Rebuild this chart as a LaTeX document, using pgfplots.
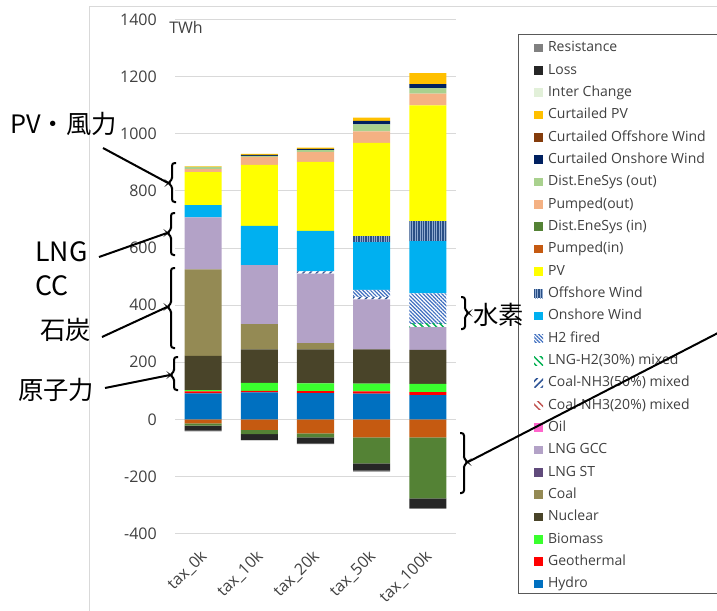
\documentclass[border=0pt]{standalone}
\usepackage{pgfplots}
\pgfplotsset{compat=1.18}
\usepackage{pgfplotstable}
\usepackage{fontspec}
\setmainfont{Open Sans}
\newfontfamily\jp{Noto Sans CJK JP}
\usetikzlibrary{patterns.meta}

% series colours
\definecolor{cHydro}{HTML}{0070C0}
\definecolor{cGeo}{HTML}{FF0000}
\definecolor{cBio}{HTML}{3AFF2E}
\definecolor{cNuc}{HTML}{494429}
\definecolor{cCoal}{HTML}{948A54}
\definecolor{cLNGST}{HTML}{604A7B}
\definecolor{cLNGGCC}{HTML}{B3A2C7}
\definecolor{cOil}{HTML}{FF66CC}
\definecolor{cNHa}{HTML}{C0504D}
\definecolor{cNHb}{HTML}{2F5597}
\definecolor{cH2mix}{HTML}{00B050}
\definecolor{cH2}{HTML}{3F6FC0}
\definecolor{cOnsh}{HTML}{00B0F0}
\definecolor{cOffsh}{HTML}{2A4F85}
\definecolor{cOffshLt}{HTML}{8FAAD0}
\definecolor{cPV}{HTML}{FFFF00}
\definecolor{cPumpIn}{HTML}{C55A11}
\definecolor{cDistIn}{HTML}{548235}
\definecolor{cPumpOut}{HTML}{F4B183}
\definecolor{cDistOut}{HTML}{A9D18E}
\definecolor{cCurOn}{HTML}{002060}
\definecolor{cCurOff}{HTML}{843C0C}
\definecolor{cCurPV}{HTML}{FFC000}
\definecolor{cInter}{HTML}{E2F0D9}
\definecolor{cLoss}{HTML}{262626}
\definecolor{cRes}{HTML}{808080}
\definecolor{cGrid}{HTML}{D9D9D9}
\definecolor{cText}{HTML}{404040}
\definecolor{cFrame}{HTML}{D9D9D9}

% generation by scenario [TWh]; negative columns are consumption
\pgfplotstableread{
idx Hydro Geo Bio Nuc Coal LNGGCC NHb H2mix H2 Onsh Offsh PV PumpOut DistOut CurOn CurPV PumpIn DistIn Loss Res
0   91    7   4   120 303  182    0   0     0   43   0     116 10      8       0     2     -14    -8     -18  -2
1   94    6   28  117 88   207    0   0     0   138  0     213 28      4       3     4     -37    -15    -20  -2
2   92    7   27  119 22   243    8   0     0   142  0     242 35      6       4     5     -49    -14    -22  -2
3   90    8   27  120 0    175    9   0     24  168  21    326 41      24      12    12    -63    -91    -26  -3
4   85    10  29  119 0    80     0   11    107 183  70    406 41      19      14    39    -63    -214   -33  -4
}\gen

\tikzset{
  sHydro/.style={fill=cHydro,draw=none},
  sGeo/.style={fill=cGeo,draw=none},
  sBio/.style={fill=cBio,draw=none},
  sNuc/.style={fill=cNuc,draw=none},
  sCoal/.style={fill=cCoal,draw=none},
  sLNGST/.style={fill=cLNGST,draw=none},
  sLNGGCC/.style={fill=cLNGGCC,draw=none},
  sOil/.style={fill=cOil,draw=none},
  sNHa/.style={fill=white,draw=none,postaction={pattern={Lines[angle=-45,distance=3.6pt,line width=1.1pt]},pattern color=cNHa}},
  sNHb/.style={fill=white,draw=none,postaction={pattern={Lines[angle=45,distance=3.6pt,line width=1.1pt]},pattern color=cNHb}},
  sH2mix/.style={fill=white,draw=none,postaction={pattern={Lines[angle=-45,distance=3.6pt,line width=1.1pt]},pattern color=cH2mix}},
  sH2/.style={fill=white,draw=none,postaction={pattern={Lines[angle=-45,distance=2.0pt,line width=0.9pt]},pattern color=cH2}},
  sOnsh/.style={fill=cOnsh,draw=none},
  sOffsh/.style={fill=cOffsh,draw=none,postaction={pattern={Lines[angle=90,distance=1.8pt,line width=0.6pt]},pattern color=cOffshLt}},
  sPV/.style={fill=cPV,draw=none},
  sPumpIn/.style={fill=cPumpIn,draw=none},
  sDistIn/.style={fill=cDistIn,draw=none},
  sPumpOut/.style={fill=cPumpOut,draw=none},
  sDistOut/.style={fill=cDistOut,draw=none},
  sCurOn/.style={fill=cCurOn,draw=none},
  sCurOff/.style={fill=cCurOff,draw=none},
  sCurPV/.style={fill=cCurPV,draw=none},
  sInter/.style={fill=cInter,draw=none},
  sLoss/.style={fill=cLoss,draw=none},
  sRes/.style={fill=cRes,draw=none},
}

\pgfplotsset{
  base/.style={
    scale only axis, width=210.75pt, height=385.4pt,
    at={(131.25pt,-400.125pt)}, anchor=south west,
    xmin=-0.5, xmax=4.5, ymin=-400, ymax=1400,
    ybar stacked, bar width=0.66,
  },
  leg/.style={legend image code/.code={\path[##1] (0pt,-3.3pt) rectangle (6.8pt,3.3pt);}},
}

% left curly brace: tip x, top y, tip y, bottom y (px, y downward)
\newcommand{\lbr}[4]{\draw[line width=1.5pt,rounded corners=2pt] (#1+8,#2) -- (#1+4,#2) -- (#1+4,#3-3) -- (#1,#3) -- (#1+4,#3+3) -- (#1+4,#4) -- (#1+8,#4);}
% right curly brace
\newcommand{\rbr}[4]{\draw[line width=1.5pt,rounded corners=2pt] (#1-8,#2) -- (#1-4,#2) -- (#1-4,#3-3) -- (#1,#3) -- (#1-4,#3+3) -- (#1-4,#4) -- (#1-8,#4);}

\begin{document}
\begin{tikzpicture}
\path[use as bounding box] (0pt,0pt) rectangle (537.75pt,-457.5pt);

% consumption side (stacked downward from zero), grid, ticks and legend
\begin{axis}[base,
  axis line style={draw=none},
  major tick style={draw=none},
  ymajorgrids, major grid style={draw=cGrid,line width=0.75pt},
  ytick={-400,-200,...,1400},
  xtick={0,1,2,3,4},
  xticklabels={tax\_0k,tax\_10k,tax\_20k,tax\_50k,tax\_100k},
  tick label style={font=\fontsize{12}{14}\selectfont,text=cText},
  yticklabel style={anchor=east,inner sep=0pt,xshift=-13.5pt},
  xticklabel style={yshift=-15pt,xshift=1pt,rotate=45,anchor=east,inner sep=0pt},
  /pgf/number format/assume math mode=true,
  /pgf/number format/1000 sep={},
  legend cell align=left,
  legend style={draw=none,fill=none,inner sep=0pt,outer sep=0pt,
    at={(axis description cs:1.2776,0.9574)},anchor=north west,
    font=\fontsize{10.5}{12}\selectfont,text=cText,
    row sep=6.95pt,column sep=3.75pt,
    nodes={inner sep=0pt,text height=7.6pt,text depth=2.2pt}},
]
\addplot[sPumpIn,forget plot] table[x=idx,y=PumpIn]{\gen};
\addplot[sDistIn,forget plot] table[x=idx,y=DistIn]{\gen};
\addplot[sLoss,forget plot] table[x=idx,y=Loss]{\gen};
\addplot[sRes,forget plot] table[x=idx,y=Res]{\gen};

\addlegendimage{leg,sRes}\addlegendentry{Resistance}
\addlegendimage{leg,sLoss}\addlegendentry{Loss}
\addlegendimage{leg,sInter}\addlegendentry{Inter Change}
\addlegendimage{leg,sCurPV}\addlegendentry{Curtailed PV}
\addlegendimage{leg,sCurOff}\addlegendentry{Curtailed Offshore Wind}
\addlegendimage{leg,sCurOn}\addlegendentry{Curtailed Onshore Wind}
\addlegendimage{leg,sDistOut}\addlegendentry{Dist.EneSys (out)}
\addlegendimage{leg,sPumpOut}\addlegendentry{Pumped(out)}
\addlegendimage{leg,sDistIn}\addlegendentry{Dist.EneSys (in)}
\addlegendimage{leg,sPumpIn}\addlegendentry{Pumped(in)}
\addlegendimage{leg,sPV}\addlegendentry{PV}
\addlegendimage{leg,sOffsh}\addlegendentry{Offshore Wind}
\addlegendimage{leg,sOnsh}\addlegendentry{Onshore Wind}
\addlegendimage{leg,sH2}\addlegendentry{H2 fired}
\addlegendimage{leg,sH2mix}\addlegendentry{LNG-H2(30\%) mixed}
\addlegendimage{leg,sNHb}\addlegendentry{Coal-NH3(50\%) mixed}
\addlegendimage{leg,sNHa}\addlegendentry{Coal-NH3(20\%) mixed}
\addlegendimage{leg,sOil}\addlegendentry{Oil}
\addlegendimage{leg,sLNGGCC}\addlegendentry{LNG GCC}
\addlegendimage{leg,sLNGST}\addlegendentry{LNG ST}
\addlegendimage{leg,sCoal}\addlegendentry{Coal}
\addlegendimage{leg,sNuc}\addlegendentry{Nuclear}
\addlegendimage{leg,sBio}\addlegendentry{Biomass}
\addlegendimage{leg,sGeo}\addlegendentry{Geothermal}
\addlegendimage{leg,sHydro}\addlegendentry{Hydro}
\end{axis}

% supply side (stacked upward from zero)
\begin{axis}[base, hide axis]
\addplot[sHydro] table[x=idx,y=Hydro]{\gen};
\addplot[sGeo] table[x=idx,y=Geo]{\gen};
\addplot[sBio] table[x=idx,y=Bio]{\gen};
\addplot[sNuc] table[x=idx,y=Nuc]{\gen};
\addplot[sCoal] table[x=idx,y=Coal]{\gen};
\addplot[sLNGGCC] table[x=idx,y=LNGGCC]{\gen};
\addplot[sNHb] table[x=idx,y=NHb]{\gen};
\addplot[sH2mix] table[x=idx,y=H2mix]{\gen};
\addplot[sH2] table[x=idx,y=H2]{\gen};
\addplot[sOnsh] table[x=idx,y=Onsh]{\gen};
\addplot[sOffsh] table[x=idx,y=Offsh]{\gen};
\addplot[sPV] table[x=idx,y=PV]{\gen};
\addplot[sPumpOut] table[x=idx,y=PumpOut]{\gen};
\addplot[sDistOut] table[x=idx,y=DistOut]{\gen};
\addplot[sCurOn] table[x=idx,y=CurOn]{\gen};
\addplot[sCurPV] table[x=idx,y=CurPV]{\gen};
\end{axis}

% frame, unit label, legend box and call-outs (px units, y downward)
\begin{scope}[x=0.75pt,y=-0.75pt]
\draw[cFrame,line width=0.75pt] (89,615) -- (89,7) -- (720,7);
\node[anchor=west,inner sep=0pt,text=cText,font=\fontsize{12}{14}\selectfont] at (169,27) {TWh};
\draw[gray!70!black,line width=0.75pt] (518,35) rectangle (740,593);

\lbr{168}{163}{183}{202}
\draw[line width=1.5pt] (103,148) -- (168,183);
\node[anchor=west,inner sep=0pt,font=\jp\fontsize{19}{22}\selectfont] at (10,124) {PV・風力};

\lbr{167}{213}{233}{255}
\draw[line width=1.5pt] (99,257) -- (167,233);
\node[anchor=west,inner sep=0pt,font=\jp\fontsize{20}{24}\selectfont] at (35,252) {LNG};
\node[anchor=west,inner sep=0pt,font=\jp\fontsize{20}{24}\selectfont] at (35,286) {CC};

\lbr{167}{268}{307}{348}
\draw[line width=1.5pt] (102,337) -- (167,307);
\node[anchor=west,inner sep=0pt,font=\jp\fontsize{19}{22}\selectfont] at (40,330) {石炭};

\lbr{170}{357}{375}{390}
\draw[line width=1.5pt] (105,388) -- (170,375);
\node[anchor=west,inner sep=0pt,font=\jp\fontsize{19}{22}\selectfont] at (18,390) {原子力};

\rbr{469}{297}{313}{329}
\node[anchor=west,inner sep=0pt,font=\jp\fontsize{19}{22}\selectfont] at (473,315) {水素};

\rbr{468}{433}{462}{493}
\draw[line width=1.5pt] (468,462) -- (745,319);
\end{scope}
\end{tikzpicture}
\end{document}
